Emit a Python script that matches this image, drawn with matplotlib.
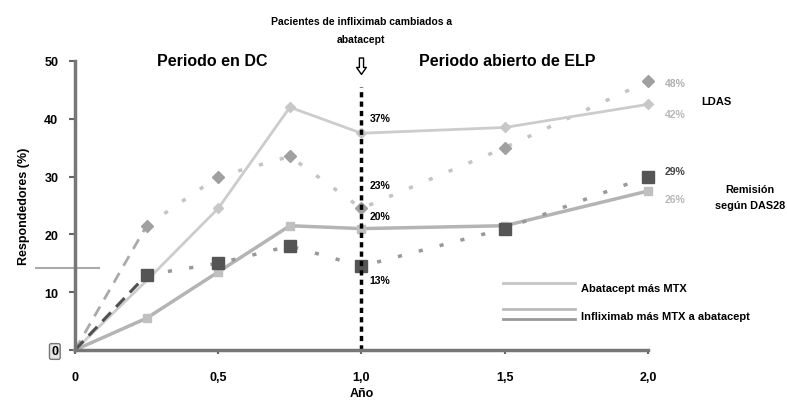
import matplotlib
matplotlib.use("Agg")
import matplotlib.pyplot as plt
from matplotlib.lines import Line2D
from matplotlib.legend_handler import HandlerBase

plt.rcParams['font.family'] = ['Liberation Sans', 'DejaVu Sans']
plt.rcParams['font.weight'] = 'bold'
plt.rcParams['axes.labelweight'] = 'bold'

# data (years, % responders)
years = [0, 0.25, 0.5, 0.75, 1.0, 1.5, 2.0]
aba_ldas = [0, 12, 24.5, 42, 37.5, 38.5, 42.5]
inf_ldas = [0, 21.5, 30, 33.5, 24.5, 35, 46.5]
aba_rem = [0, 5.5, 13.5, 21.5, 21, 21.5, 27.5]
inf_rem = [0, 13, 15, 18, 14.5, 21, 30]

switch_labels = ["37%", "23%", "20%", "13%"]
end_labels = ["48%", "42%", "29%", "26%"]
xticks = [0, 0.5, 1.0, 1.5, 2.0]
xticklabels = ["0", "0,5", "1,0", "1,5", "2,0"]
yticks = [0, 10, 20, 30, 40, 50]

fig = plt.figure(figsize=(7.87, 4.06), dpi=100)
ax = fig.add_axes([0.0953, 0.1355, 0.728, 0.7118])

# infliximab LDAS: dashed first segment, then sparse dots
ax.plot(years[:2], inf_ldas[:2], color='#aaaaaa', lw=2, ls=(0, (4, 3)))
ax.plot(years[1:], inf_ldas[1:], color='#c4c4c4', lw=2.5, ls=(0, (1.2, 5)),
        marker='D', ms=6.5, mfc='#a0a0a0', mec='#a0a0a0', clip_on=False)

# abatacept LDAS
ax.plot(years, aba_ldas, color='#cccccc', lw=2, marker='D', ms=5,
        mfc='#c8c8c8', mec='#c8c8c8', markevery=slice(2, None), clip_on=False)

# abatacept remission
ax.plot(years, aba_rem, color='#b4b4b4', lw=2.5, marker='s', ms=6,
        mfc='#c0c0c0', mec='#c0c0c0', markevery=slice(1, None), clip_on=False)

# infliximab remission
ax.plot(years[:2], inf_rem[:2], color='#505050', lw=2.2, ls=(0, (4, 2.5)))
ax.plot(years[1:], inf_rem[1:], color='#999999', lw=2.5, ls=(0, (1.2, 5)),
        marker='s', ms=9, mfc='#555555', mec='#555555', clip_on=False)

# switch line at year 1
ax.vlines(1.0, 0, 45.5, color='black', lw=2.5, ls=(0, (1.5, 1.2)))
ax.annotate('', xy=(1.0, 47.2), xytext=(1.0, 51.0),
            arrowprops=dict(arrowstyle='simple,head_width=0.7,head_length=0.5,tail_width=0.3',
                            fc='white', ec='black', lw=1))
ax.text(1.0, 53.0, "Pacientes de infliximab cambiados a\nabatacept", ha='center',
        va='bottom', fontsize=7.5, linespacing=1.9)
ax.text(0.48, 50, "Periodo en DC", ha='center', va='center', fontsize=11.5)
ax.text(1.51, 50, "Periodo abierto de ELP", ha='center', va='center', fontsize=11.5)

# value labels at the switch
sw_vals = [aba_ldas[4], inf_ldas[4], aba_rem[4], inf_rem[4]]
sw_offs = [11, 17, 9, -10]
for lab, v, dy in zip(switch_labels, sw_vals, sw_offs):
    ax.annotate(lab, xy=(1.0, v), xytext=(6, dy), textcoords='offset points',
                ha='left', va='center', fontsize=7.5)

# value labels at year 2
end_vals = [inf_ldas[-1], aba_ldas[-1], inf_rem[-1], aba_rem[-1]]
end_offs = [-1, -7, 4, -6]
end_cols = ['#b0b0b0', '#b8b8b8', '#444444', '#b8b8b8']
for lab, v, dy, c in zip(end_labels, end_vals, end_offs, end_cols):
    ax.annotate(lab, xy=(2.0, v), xytext=(12, dy), textcoords='offset points',
                ha='left', va='center', fontsize=7.5, color=c, annotation_clip=False)

ax.text(2.24, 43, "LDAS", ha='center', va='center', fontsize=8)
ax.text(2.355, 26.5, "Remisión\nsegún DAS28", ha='center', va='center',
        fontsize=7.8, linespacing=1.7, multialignment='center')

# stray guide line at left of the scan
ax.hlines(14.2, -0.14, 0.087, color='#aaaaaa', lw=1.5, clip_on=False)


class StackHandler(HandlerBase):
    def __init__(self, colors):
        super().__init__()
        self.colors = colors

    def create_artists(self, legend, orig_handle, xdescent, ydescent,
                       width, height, fontsize, trans):
        arts = []
        n = len(self.colors)
        for i, c in enumerate(self.colors):
            y = height * (1.3 - 1.3 * i) - ydescent if n > 1 else height * 1.1 - ydescent
            arts.append(Line2D([-xdescent, width - xdescent], [y, y], color=c,
                               lw=2, transform=trans))
        return arts


h1 = Line2D([], [], color='#c0c0c0')
h2 = Line2D([], [], color='#888888')
ax.legend([h1, h2], ["Abatacept más MTX", "Infliximab más MTX a abatacept"],
          handler_map={h1: StackHandler(['#c4c4c4']),
                       h2: StackHandler(['#bbbbbb', '#999999'])},
          loc='upper left', bbox_to_anchor=(0.73, 0.265), frameon=False,
          fontsize=8, handlelength=6.5, handletextpad=0.5, labelspacing=1.6)

ax.set_xlim(0, 2.0)
ax.set_ylim(0, 50)
ax.set_xticks(xticks)
ax.set_xticklabels(xticklabels, fontsize=9)
ax.set_yticks(yticks)
ax.tick_params(axis='y', length=4, width=1.5, color='#666666', labelsize=9, pad=8)
ax.tick_params(axis='x', length=3, width=1.5, color='#666666', pad=12)
for side in ['top', 'right']:
    ax.spines[side].set_visible(False)
for side in ['left', 'bottom']:
    ax.spines[side].set_color('#777777')
    ax.spines[side].set_linewidth(2.5)
ax.spines['bottom'].set_bounds(0, 2.0)

ylabs = ax.get_yticklabels()
ylabs[0].set_bbox(dict(boxstyle='round,pad=0.15', fc='#e6e6e6', ec='#777777', lw=1))

ax.set_ylabel("Respondedores (%)", fontsize=9, labelpad=10)
ax.set_xlabel("Año", fontsize=9, labelpad=3)

fig.savefig("out.png", dpi=100)
